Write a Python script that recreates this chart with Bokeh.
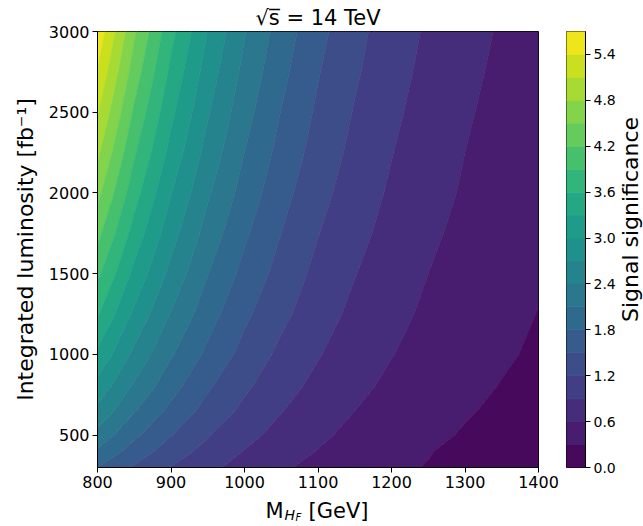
import numpy as np
from bokeh.plotting import figure
from bokeh.layouts import row, column
from bokeh.models import Label, FixedTicker, Range1d, PrintfTickFormatter
from bokeh.palettes import Viridis256
from bokeh.embed import file_html
from bokeh.resources import INLINE

# ---- data ----
mass = [800, 850, 900, 950, 1000, 1050, 1100, 1150, 1200, 1250, 1300, 1350, 1400]
lumi = [300, 400, 500, 650, 800, 1000, 1250, 1500, 1750, 2000, 2250, 2500, 2750, 3000]

sig_L300  = [1.80, 1.46, 1.19, 0.97, 0.79, 0.64, 0.52, 0.42, 0.34, 0.29, 0.23, 0.19, 0.155]
sig_L400  = [2.06, 1.67, 1.36, 1.10, 0.89, 0.73, 0.59, 0.48, 0.39, 0.31, 0.25, 0.21, 0.17]
sig_L500  = [2.29, 1.86, 1.51, 1.22, 0.99, 0.80, 0.65, 0.53, 0.43, 0.35, 0.28, 0.23, 0.19]
sig_L650  = [2.62, 2.12, 1.72, 1.39, 1.13, 0.91, 0.74, 0.60, 0.49, 0.40, 0.32, 0.26, 0.21]
sig_L800  = [2.90, 2.35, 1.91, 1.54, 1.25, 1.01, 0.82, 0.67, 0.54, 0.44, 0.36, 0.29, 0.235]
sig_L1000 = [3.24, 2.63, 2.13, 1.73, 1.40, 1.13, 0.92, 0.74, 0.61, 0.49, 0.40, 0.33, 0.265]
sig_L1250 = [3.63, 2.94, 2.38, 1.93, 1.56, 1.27, 1.03, 0.83, 0.68, 0.55, 0.45, 0.36, 0.295]
sig_L1500 = [3.97, 3.22, 2.61, 2.11, 1.71, 1.39, 1.12, 0.91, 0.74, 0.60, 0.49, 0.40, 0.33]
sig_L1750 = [4.29, 3.48, 2.82, 2.28, 1.85, 1.50, 1.21, 0.99, 0.80, 0.65, 0.53, 0.43, 0.35]
sig_L2000 = [4.59, 3.72, 3.01, 2.44, 1.98, 1.60, 1.30, 1.05, 0.86, 0.70, 0.57, 0.46, 0.38]
sig_L2250 = [4.87, 3.94, 3.20, 2.59, 2.10, 1.70, 1.38, 1.12, 0.91, 0.74, 0.60, 0.49, 0.40]
sig_L2500 = [5.13, 4.15, 3.37, 2.73, 2.21, 1.79, 1.45, 1.18, 0.96, 0.78, 0.63, 0.52, 0.42]
sig_L2750 = [5.38, 4.36, 3.53, 2.86, 2.32, 1.88, 1.52, 1.24, 1.01, 0.82, 0.67, 0.54, 0.44]
sig_L3000 = [5.62, 4.55, 3.69, 2.99, 2.42, 1.96, 1.59, 1.29, 1.05, 0.86, 0.70, 0.57, 0.46]

mass_ticks = [800, 900, 1000, 1100, 1200, 1300, 1400]
lumi_ticks = [500, 1000, 1500, 2000, 2500, 3000]
levels = [round(0.3 * i, 1) for i in range(20)]
cbar_ticks = [0.0, 0.6, 1.2, 1.8, 2.4, 3.0, 3.6, 4.2, 4.8, 5.4]

significance = np.array([sig_L300, sig_L400, sig_L500, sig_L650, sig_L800, sig_L1000,
                         sig_L1250, sig_L1500, sig_L1750, sig_L2000, sig_L2250,
                         sig_L2500, sig_L2750, sig_L3000])

# matplotlib-like contourf colours: viridis at band midpoints normalised to level range
colors = [Viridis256[min(255, int(0.5 * (levels[i] + levels[i + 1]) / levels[-1] * 256))]
          for i in range(len(levels) - 1)]
# contour lines drawn in the colour of the band below them hide antialiasing seams
line_colors = [colors[max(0, i - 1)] for i in range(len(levels))]

FONT = "DejaVu Sans"


def text_figure(width, height):
    f = figure(width=width, height=height, x_range=Range1d(0, 1), y_range=Range1d(0, 1),
               x_axis_location=None, y_axis_location=None, min_border=0,
               output_backend="svg", toolbar_location=None)
    f.xgrid.visible = False
    f.ygrid.visible = False
    f.outline_line_color = None
    f.background_fill_color = "white"
    f.border_fill_color = "white"
    return f


# ---- main contour figure ----
p = figure(width=560, height=497,
           x_range=Range1d(min(mass), max(mass)), y_range=Range1d(min(lumi), max(lumi)),
           output_backend="svg", toolbar_location=None,
           min_border_left=97, min_border_right=22, min_border_top=31, min_border_bottom=30)
p.contour(mass, lumi, significance, levels, fill_color=colors,
          line_color=line_colors, line_width=0.8)

p.title.text = "√s\u0305 = 14 TeV"
p.title.align = "center"
p.title.text_font = FONT
p.title.text_font_size = "21px"
p.title.text_font_style = "normal"
p.title.text_color = "black"
p.title.standoff = 4

p.xgrid.visible = False
p.ygrid.visible = False
p.outline_line_color = "black"
p.outline_line_alpha = 1.0
p.outline_line_width = 1
p.background_fill_color = "white"
p.border_fill_color = "white"

p.xaxis.ticker = FixedTicker(ticks=mass_ticks)
p.yaxis.ticker = FixedTicker(ticks=lumi_ticks)
for ax in (p.xaxis[0], p.yaxis[0]):
    ax.major_tick_in = 0
    ax.major_tick_out = 5
    ax.minor_tick_line_color = None
    ax.axis_line_color = "black"
    ax.major_tick_line_color = "black"
    ax.major_label_text_font = FONT
    ax.major_label_text_font_size = "16px"
    ax.major_label_text_color = "black"
    ax.major_label_standoff = 3
p.yaxis.axis_label = "Integrated luminosity [fb⁻¹]"
p.yaxis.axis_label_text_font = FONT
p.yaxis.axis_label_text_font_size = "22px"
p.yaxis.axis_label_text_font_style = "normal"
p.yaxis.axis_label_text_color = "black"
p.yaxis.axis_label_standoff = 8

# ---- colour bar ----
cb = figure(width=58, height=497, x_range=Range1d(0, 1), y_range=Range1d(levels[0], levels[-1]),
            x_axis_location=None, y_axis_location="right",
            output_backend="svg", toolbar_location=None,
            min_border_left=6, min_border_right=30, min_border_top=31, min_border_bottom=30)
cb.quad(left=0, right=1, bottom=levels[:-1], top=levels[1:], fill_color=colors,
        line_color=colors, line_width=0.8)
cb.xgrid.visible = False
cb.ygrid.visible = False
cb.outline_line_color = "black"
cb.outline_line_alpha = 1.0
cb.background_fill_color = "white"
cb.border_fill_color = "white"
cax = cb.yaxis[0]
cax.ticker = FixedTicker(ticks=cbar_ticks)
cax.formatter = PrintfTickFormatter(format="%.1f")
cax.major_tick_in = 0
cax.major_tick_out = 5
cax.minor_tick_line_color = None
cax.axis_line_color = "black"
cax.major_tick_line_color = "black"
cax.major_label_text_font = FONT
cax.major_label_text_font_size = "14px"
cax.major_label_text_color = "black"
cax.major_label_standoff = 3

# colour-bar label (reads bottom to top, as in the reference)
cbl = text_figure(25, 497)
cbl.add_layout(Label(x=12, y=248, x_units="screen", y_units="screen", text="Signal significance",
                     angle=np.pi / 2, text_align="center", text_baseline="middle",
                     text_font=FONT, text_font_size="22px", text_color="black"))

# x-axis label  M_{H_F} [GeV]
xl = text_figure(643, 29)
xl.add_layout(Label(x=265, y=16, x_units="screen", y_units="screen", text="M",
                    text_align="left", text_baseline="alphabetic",
                    text_font=FONT, text_font_size="21px", text_color="black"))
xl.add_layout(Label(x=284, y=12, x_units="screen", y_units="screen", text="H",
                    text_align="left", text_baseline="alphabetic", text_font_style="italic",
                    text_font=FONT, text_font_size="14px", text_color="black"))
xl.add_layout(Label(x=295, y=9, x_units="screen", y_units="screen", text="F",
                    text_align="left", text_baseline="alphabetic", text_font_style="italic",
                    text_font=FONT, text_font_size="10px", text_color="black"))
xl.add_layout(Label(x=308, y=16, x_units="screen", y_units="screen", text="[GeV]",
                    text_align="left", text_baseline="alphabetic",
                    text_font=FONT, text_font_size="21px", text_color="black"))

layout = column(row(p, cb, cbl), xl)
open("out.html", "w").write(file_html(layout, INLINE))
